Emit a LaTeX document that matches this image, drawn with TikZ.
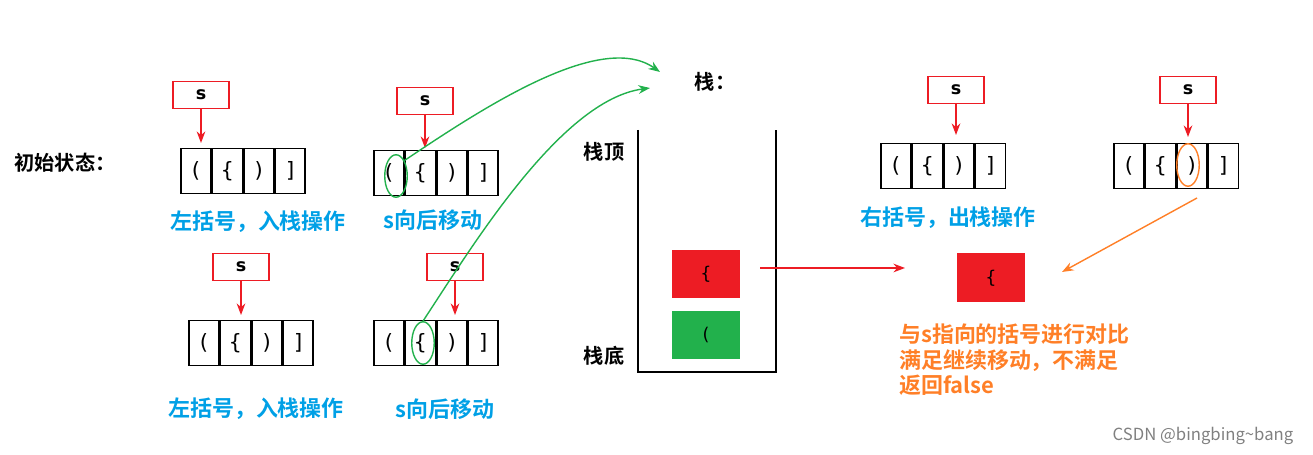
\documentclass[tikz,border=0pt]{standalone}
\usepackage{fontspec}
\setmainfont{DejaVu Sans}
\newfontfamily\cjk{Noto Sans CJK SC}[BoldFont={Noto Sans CJK SC Bold}]
\usetikzlibrary{arrows.meta,positioning,calc,shapes.geometric}
\definecolor{cblue}{RGB}{0,160,230}
\definecolor{corange}{RGB}{255,127,39}
\definecolor{cred}{RGB}{237,28,36}
\definecolor{cgreen}{RGB}{34,177,76}

% array of four cells
\newcommand{\strarray}[3]{%
	\node [cell] (#1c1) at (#2,#3) {(};
	\node [cell,right=0pt of #1c1] (#1c2) {\{};
	\node [cell,right=0pt of #1c2] (#1c3) {)};
	\node [cell,right=0pt of #1c3] (#1c4) {]};
}

\begin{document}
\begin{tikzpicture}
			[x=0.02cm,y=-0.02cm,>=Stealth,
			ptr/.style={draw=cred,thick,minimum width=1.12cm,minimum height=0.55cm,inner sep=0pt,font=\bfseries},
			cell/.style={draw,thick,minimum width=0.6cm,minimum height=0.9cm,inner sep=0pt,font=\large},
			note/.style={text=cblue,font=\cjk\bfseries\fontsize{12.5}{15}\selectfont},
			down/.style={->,cred,thick},
			hint/.style={draw,thick,ellipse,minimum width=0.45cm,minimum height=0.85cm}]
			
			\useasboundingbox (0,0) rectangle (1313,455);
			
			\node [font=\cjk\bfseries\fontsize{11.5}{13}\selectfont] (init) at (65,163) {初始状态：};
			
			\strarray{a}{196}{171}
			\node [ptr] (sa) at (201,95) {s};
			\draw [down] (sa) -- (201,143);
			\node [note] (ta) at (258,222) {左括号，入栈操作};
			
			\strarray{b}{389}{173}
			\node [ptr] (sb) at (425,101) {s};
			\draw [down] (sb) -- (425,148);
			\node [hint,draw=cgreen] (eb) at (396,176) {};
			\node [note] (tb) at (433,220) {s向后移动};
			
			\strarray{c}{204}{343}
			\node [ptr] (sc) at (241,267) {s};
			\draw [down] (sc) -- (241,315);
			\node [note] (tc) at (256,409) {左括号，入栈操作};
			
			\strarray{d}{389}{343}
			\node [ptr] (sd) at (455,267) {s};
			\draw [down] (sd) -- (455,315);
			\node [hint,draw=cgreen] (ed) at (423,343) {};
			\node [note] (td) at (445,409) {s向后移动};
			
			\draw [->,cgreen,thick] (eb.north east) .. controls (480,110) and (600,30) .. (660,72);
			\draw [->,cgreen,thick] (ed.north) .. controls (470,250) and (560,100) .. (650,88);
			
			% stack
			\node [font=\cjk\bfseries\fontsize{11.5}{13}\selectfont] (stk) at (715,82) {栈：};
			\draw [thick] (638,130) -- (638,372) -- (776,372) -- (776,130);
			\node [font=\cjk\bfseries\fontsize{11.5}{13}\selectfont] (top) at (604,152) {栈顶};
			\node [font=\cjk\bfseries\fontsize{11.5}{13}\selectfont] (bot) at (604,356) {栈底};
			\node [fill=cred,minimum width=1.36cm,minimum height=0.96cm] (s1) at (706,274) {\{};
			\node [fill=cgreen,minimum width=1.36cm,minimum height=0.96cm] (s2) at (706,335) {(};
			\node (pop) [fill=cred,minimum width=1.36cm,minimum height=0.98cm] at (991,278) {\{};
			\draw [->,cred,thick] (760,268) -- (905,268);
			
			\strarray{e}{896}{166}
			\node [ptr] (se) at (956,90) {s};
			\draw [down] (se) -- (956,135);
			\node [note] (te) at (948,218) {右括号，出栈操作};
			
			\strarray{f}{1129}{166}
			\node [ptr] (sf) at (1188,90) {s};
			\draw [down] (sf) -- (1188,137);
			\node [hint,draw=corange] (ef) at (1188,165) {};
			\draw [->,corange,thick] (1197,198) -- (1062,272);
			
			\node [note,text=corange,align=left,anchor=north west,font=\cjk\bfseries\fontsize{12.5}{14.5}\selectfont] (cmp) at (893,318)
				{与s指向的括号进行对比\\满足继续移动，不满足\\返回false};
			
			\node [text=gray,font=\cjk\fontsize{9.5}{11}\selectfont] (mark) at (1203,436) {CSDN @bingbing\textasciitilde bang};
			
\end{tikzpicture}
\end{document}
